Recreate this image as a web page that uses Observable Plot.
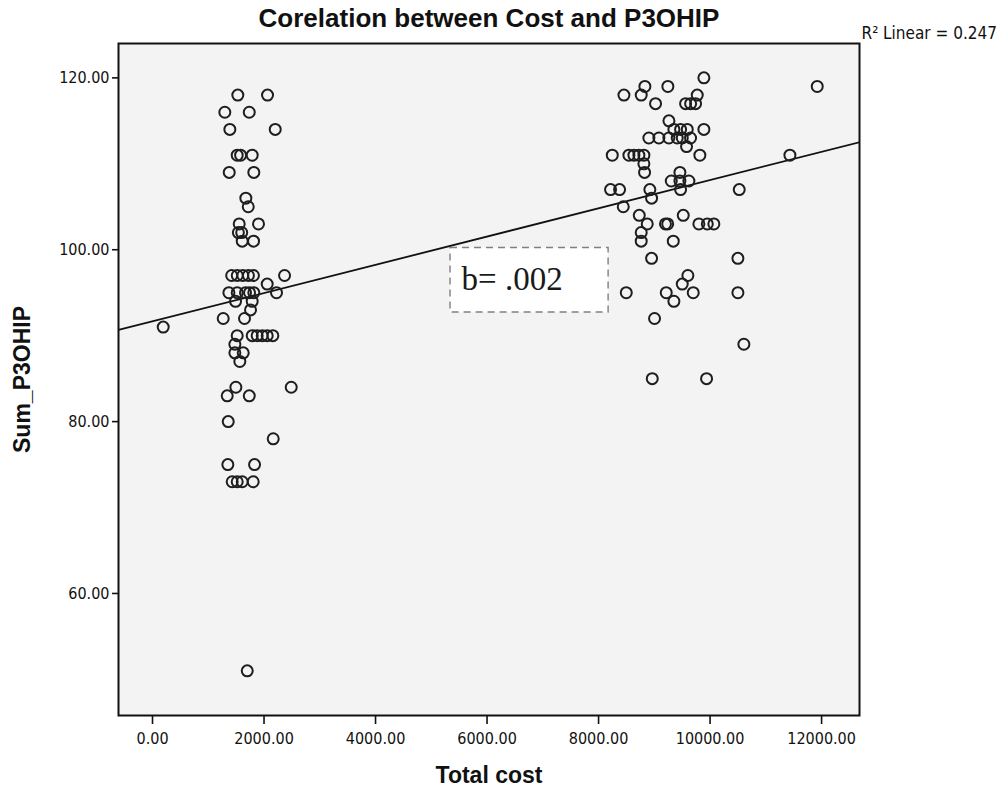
<!DOCTYPE html>
<html>
<head>
<meta charset="utf-8">
<script src="https://cdn.jsdelivr.net/npm/d3@7"></script>
<script src="https://cdn.jsdelivr.net/npm/@observablehq/plot@0.6"></script>
<style>
  html, body { margin: 0; padding: 0; background: #ffffff; }
  #chart svg { display: block; }
</style>
</head>
<body>
<div id="chart"></div>
<script>
// ---- Data ----
const cost = [
  1530, 2063, 1297, 1735, 1387, 2201, 1519, 1580, 1788, 1376,
  1817, 1674, 1717, 1555, 1901, 1540, 1600, 1609, 1812, 1420,
  1520, 1620, 1720, 1810, 2368, 2057, 1370, 1519, 1668, 1740,
  1817, 2224, 1489, 1788, 1758, 1268, 1650, 192, 1519, 1788,
  1877, 1968, 2057, 2158, 1477, 1477, 1627, 1566, 1495, 2488,
  1340, 1735, 1358, 2165, 1351, 1830, 1429, 1519, 1609, 1806,
  1699,
  9889, 11922, 8831, 9243, 8455, 8765, 9770, 9022, 9561, 9651,
  9740, 9262, 9889, 9351, 9471, 9591, 8902, 9082, 9261, 9411,
  9501, 9650, 9578, 8246, 8544, 8634, 8723, 8813, 9817, 11432,
  8813, 8825, 9459, 9304, 9459, 9620, 9471, 8215, 8377, 8920,
  10523, 8951, 8443, 8730, 9519, 8873, 9200, 9240, 9799, 9950,
  10068, 8765, 8765, 9340, 8951, 10499, 9602, 9501, 8497, 9214,
  9698, 10499, 9351, 9004, 10606, 8963, 9937
];
const score = [
  118, 118, 116, 116, 114, 114, 111, 111, 111, 109,
  109, 106, 105, 103, 103, 102, 102, 101, 101, 97,
  97, 97, 97, 97, 97, 96, 95, 95, 95, 95,
  95, 95, 94, 94, 93, 92, 92, 91, 90, 90,
  90, 90, 90, 90, 89, 88, 88, 87, 84, 84,
  83, 83, 80, 78, 75, 75, 73, 73, 73, 73,
  51,
  120, 119, 119, 119, 118, 118, 118, 117, 117, 117,
  117, 115, 114, 114, 114, 114, 113, 113, 113, 113,
  113, 113, 112, 111, 111, 111, 111, 111, 111, 111,
  110, 109, 109, 108, 108, 108, 107, 107, 107, 107,
  107, 106, 105, 104, 104, 103, 103, 103, 103, 103,
  103, 102, 101, 101, 99, 99, 97, 96, 95, 95,
  95, 95, 94, 92, 89, 85, 85
];
const xTicks = [0, 2000, 4000, 6000, 8000, 10000, 12000];
const yTicks = [60, 80, 100, 120];
const titleText = "Corelation between Cost and P3OHIP";
const xLabel = "Total cost";
const yLabel = "Sum_P3OHIP";
const r2Text = "R² Linear = 0.247";
const slopeText = "b= .002";
const xDomain = [-610, 12680];
const yDomain = [45.8, 124];
// annotation box placed in data units
const annotation = [{x1: 5345, x2: 8180, y1: 92.7, y2: 100.2, tx: 6450, ty: 96.5, label: slopeText}];

// ---- Derived ----
const data = cost.map((c, i) => ({cost: c, score: score[i]}));
const mx = d3.mean(cost), my = d3.mean(score);
const slope = d3.sum(data, d => (d.cost - mx) * (d.score - my)) / d3.sum(data, d => (d.cost - mx) ** 2);
const intercept = my - slope * mx;
const fit = xDomain.map(x => ({cost: x, score: intercept + slope * x}));

const fmt = d3.format(".2f");
const sans = "'Liberation Sans', Arial, Helvetica, sans-serif";
const narrow = "'Liberation Sans Narrow', 'Arial Narrow', 'DejaVu Sans Condensed', 'Liberation Sans', sans-serif";

const chart = Plot.plot({
  width: 1003,
  height: 790,
  marginLeft: 118,
  marginRight: 144,
  marginTop: 43,
  marginBottom: 75,
  style: {background: "#ffffff", fontFamily: sans, fontSize: "15px", color: "#111", overflow: "visible"},
  x: {domain: xDomain},
  y: {domain: yDomain},
  marks: [
    Plot.frame({fill: "#f3f3f3", stroke: "none"}),
    Plot.rect(annotation, {x1: "x1", x2: "x2", y1: "y1", y2: "y2", fill: "#ffffff", stroke: "#808080", strokeWidth: 1.4, strokeDasharray: "7,5"}),
    Plot.text(annotation, {x: "tx", y: "ty", text: "label", fontFamily: "'Liberation Serif', 'Times New Roman', serif", fontSize: 33, fill: "#1a1a1a", lineAnchor: "middle"}),
    Plot.line(fit, {x: "cost", y: "score", stroke: "#111", strokeWidth: 1.8, clip: true}),
    Plot.dot(data, {x: "cost", y: "score", r: 5.5, stroke: "#1e1e1e", strokeWidth: 2, fill: "none"}),
    Plot.axisX({ticks: xTicks, tickFormat: fmt, tickSize: 9, tickPadding: 8, label: null, fontSize: 16, fontFamily: narrow, strokeWidth: 1.6}),
    Plot.axisY({ticks: yTicks, tickFormat: fmt, tickSize: 6, tickPadding: 3, label: null, fontSize: 16, fontFamily: narrow, strokeWidth: 1.6}),
    Plot.frame({stroke: "#111", strokeWidth: 2}),
    Plot.text([titleText], {frameAnchor: "top", dy: -25, lineAnchor: "middle", text: d => d, fontWeight: "bold", fontSize: 26, fill: "#111"}),
    Plot.text([xLabel], {frameAnchor: "bottom", dy: 60, lineAnchor: "middle", text: d => d, fontWeight: "bold", fontSize: 23, fill: "#111"}),
    Plot.text([yLabel], {frameAnchor: "left", dx: -96, rotate: -90, textAnchor: "middle", lineAnchor: "middle", text: d => d, fontWeight: "bold", fontSize: 23, fill: "#111"}),
    Plot.text([r2Text], {frameAnchor: "top-right", dx: 2, dy: -10, textAnchor: "start", lineAnchor: "middle", text: d => d, fontSize: 17, fontFamily: narrow, fill: "#111"})
  ]
});
document.getElementById("chart").appendChild(chart);
</script>
</body>
</html>
